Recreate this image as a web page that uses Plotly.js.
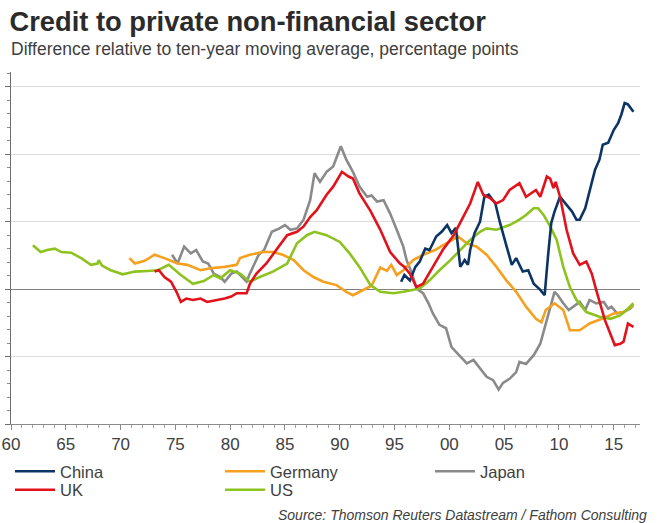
<!DOCTYPE html>
<html>
<head>
<meta charset="utf-8">
<script src="https://cdn.plot.ly/plotly-3.0.1.min.js"></script>
<style>html,body{margin:0;padding:0;background:#fff;}#chart{width:660px;height:523px;}</style>
</head>
<body>
<div id="chart"></div>
<script>
// ---- Data (years as decimal, values in percentage points) ----
const chinaYears = [1995.6,1995.9,1996.4,1996.9,1997.3,1997.8,1998.2,1998.8,1999.3,1999.8,2000.2,2000.6,2001.0,2001.4,2001.7,2001.9,2002.3,2002.8,2003.2,2003.6,2004.2,2004.6,2005.2,2005.7,2006.1,2006.7,2007.2,2007.7,2008.3,2008.7,2009.0,2009.3,2009.6,2010.1,2010.7,2011.2,2011.6,2011.9,2012.4,2012.8,2013.3,2013.7,2014.0,2014.5,2015.0,2015.4,2015.7,2016.0,2016.3,2016.8];
const chinaValues = [1.1,2.1,1.3,3.3,4.1,6.0,5.8,7.8,8.5,9.5,8.3,9.1,3.3,4.3,3.6,5.8,8.3,10.0,13.7,14.0,12.7,10.0,6.5,3.6,4.6,2.6,2.8,0.8,-0.1,-0.9,4.8,9.8,11.5,13.7,12.5,11.5,10.3,10.3,12.0,14.5,17.7,19.2,21.4,21.7,23.6,24.6,25.9,27.6,27.4,26.3];

const germanyYears = [1970.8,1971.3,1972.2,1973.1,1974.0,1975.2,1976.1,1977.3,1978.2,1979.5,1980.6,1980.9,1981.8,1983.0,1983.9,1984.8,1985.8,1986.7,1987.6,1988.5,1989.7,1990.6,1991.2,1992.1,1992.9,1993.7,1994.3,1994.7,1995.2,1995.8,1996.7,1997.6,1998.7,1999.4,2000.2,2000.8,2001.6,2002.5,2003.4,2004.3,2005.2,2006.1,2007.0,2007.9,2008.4,2008.8,2009.6,2010.4,2011.0,2011.9,2012.8,2013.7,2014.4,2015.0,2015.9,2016.8];
const germanyValues = [4.6,3.8,4.2,5.1,4.6,3.8,3.6,2.8,3.1,3.3,3.6,4.6,5.1,5.5,5.5,5.1,4.3,2.8,1.8,1.1,0.6,-0.4,-0.9,-0.1,0.5,3.2,2.7,3.6,2.1,2.8,4.3,5.1,5.8,6.5,7.3,7.8,6.8,6.3,5.1,3.3,1.3,-0.4,-2.6,-4.4,-4.9,-3.1,-2.1,-3.1,-6.1,-6.1,-5.1,-4.6,-4.1,-3.6,-3.4,-2.4];

const japanYears = [1974.7,1975.2,1975.8,1976.4,1976.9,1977.5,1978.0,1978.5,1979.1,1979.5,1980.1,1980.6,1981.5,1981.8,1982.6,1983.1,1983.8,1984.5,1985.0,1985.5,1986.1,1986.7,1987.3,1987.7,1988.2,1988.8,1989.4,1989.7,1990.1,1990.6,1991.2,1991.8,1992.5,1992.9,1993.4,1994.0,1994.6,1995.2,1995.8,1996.1,1996.6,1997.0,1997.6,1998.1,1998.5,1999.1,1999.7,2000.2,2001.0,2001.6,2002.2,2002.8,2003.4,2004.0,2004.5,2004.9,2005.5,2006.1,2006.4,2007.0,2007.7,2008.3,2008.9,2009.3,2009.6,2009.9,2010.4,2010.9,2011.3,2011.9,2012.4,2012.8,2013.4,2014.1,2014.5,2014.8,2015.3,2015.9,2016.5,2016.8];
const japanValues = [5.1,3.8,6.3,5.3,5.8,4.1,3.8,2.3,1.8,1.1,2.3,2.6,1.1,2.3,5.1,5.8,8.5,9.0,9.5,8.8,9.0,10.3,13.2,17.2,15.9,17.4,18.2,19.4,21.2,19.2,17.4,15.2,13.7,13.9,13.0,13.2,11.2,8.8,6.3,4.3,2.3,0.1,-0.6,-2.1,-3.6,-5.3,-5.8,-8.6,-10.0,-11.0,-10.5,-11.8,-13.0,-13.5,-14.9,-13.9,-13.3,-12.3,-10.8,-11.1,-9.8,-8.1,-4.6,-2.1,-0.4,-0.9,-2.1,-3.1,-2.6,-1.9,-3.1,-1.6,-2.1,-1.9,-2.9,-2.6,-3.6,-3.4,-2.9,-2.4];

const ukYears = [1973.1,1973.5,1974.0,1974.6,1975.1,1975.5,1976.0,1976.6,1977.3,1977.9,1978.8,1979.5,1980.1,1980.6,1981.5,1981.8,1982.4,1983.3,1984.2,1985.2,1986.1,1986.7,1987.3,1987.9,1988.8,1989.4,1990.2,1990.8,1991.2,1991.8,1992.8,1993.7,1994.6,1995.5,1995.9,1996.4,1997.0,1997.6,1998.5,1999.4,2000.4,2001.3,2001.9,2002.6,2003.1,2003.7,2004.3,2004.9,2005.5,2006.4,2007.0,2007.9,2008.3,2008.9,2009.2,2009.5,2009.7,2010.1,2010.7,2011.3,2011.9,2012.5,2013.0,2013.4,2014.2,2015.1,2015.6,2015.9,2016.3,2016.8];
const ukValues = [2.6,2.8,1.8,1.1,-0.4,-1.9,-1.4,-1.6,-1.4,-1.9,-1.6,-1.4,-1.1,-0.6,-0.6,0.8,2.3,3.8,5.8,8.0,8.5,9.3,10.7,11.7,14.0,15.2,17.4,16.7,16.4,14.2,11.6,8.8,5.5,3.8,3.3,2.3,0.3,0.8,3.3,5.8,8.0,10.7,12.7,15.9,14.0,13.5,12.7,13.2,14.7,15.7,13.7,14.7,13.7,16.7,16.4,15.0,15.9,13.7,8.8,5.3,3.6,4.1,2.3,-0.1,-4.6,-8.3,-8.1,-7.8,-5.1,-5.6];

const usYears = [1962.0,1962.4,1962.7,1963.3,1964.0,1964.6,1965.5,1966.4,1967.3,1967.9,1968.0,1968.3,1969.1,1970.2,1971.3,1972.5,1973.4,1974.4,1975.5,1976.6,1977.6,1978.5,1979.1,1980.0,1980.9,1981.8,1982.7,1983.9,1985.2,1986.1,1987.0,1987.7,1988.8,1990.0,1990.9,1991.8,1992.8,1993.7,1994.9,1995.8,1997.3,1998.2,1999.1,2000.1,2001.0,2001.9,2002.8,2003.4,2004.3,2005.5,2006.4,2007.0,2007.7,2008.1,2008.6,2009.2,2009.8,2010.4,2011.0,2011.6,2012.5,2013.7,2014.7,2015.6,2016.3,2016.8];
const usValues = [6.5,5.9,5.5,5.8,6.0,5.5,5.4,4.6,3.6,3.8,4.3,3.5,2.8,2.2,2.6,2.7,2.8,3.6,2.1,0.8,1.2,2.1,1.6,2.8,2.3,1.1,1.8,2.6,3.8,6.8,8.0,8.5,8.0,7.0,5.3,3.3,0.6,-0.4,-0.6,-0.4,0.1,1.3,2.8,4.3,5.8,7.3,8.5,9.0,8.8,9.5,10.3,11.0,12.0,12.0,11.0,9.3,7.3,3.3,0.3,-1.6,-3.4,-4.1,-4.4,-3.9,-2.9,-2.1];

const xTickVals = [1960,1965,1970,1975,1980,1985,1990,1995,2000,2005,2010,2015];
const xTickText = ["60","65","70","75","80","85","90","95","00","05","10","15"];

// ---- Layout helpers ----
const W = 660, H = 523;
const M = {l: 11, r: 20, t: 72, b: 99};
const pw = W - M.l - M.r, ph = H - M.t - M.b;
const px = X => (X - M.l) / pw;
const py = Y => (H - M.b - Y) / ph;

function tr(name, x, y, color, rank, legend) {
  return {type: 'scatter', mode: 'lines', name: name, x: x, y: y,
    line: {color: color, width: 2.6}, legendrank: rank, legend: legend, hoverinfo: 'skip'};
}

const data = [
  tr('Japan', japanYears, japanValues, '#8a8a8a', 3, 'legend'),
  tr('Germany', germanyYears, germanyValues, '#f5a01f', 2, 'legend'),
  tr('US', usYears, usValues, '#8cc31e', 5, 'legend2'),
  tr('China', chinaYears, chinaValues, '#0d3563', 1, 'legend'),
  tr('UK', ukYears, ukValues, '#e2121c', 4, 'legend2')
];

const font = 'Liberation Sans, Arial, sans-serif';
function legendRow(topY) {
  return {orientation: 'h', xref: 'container', yref: 'container', x: 10 / W, xanchor: 'left',
    y: 1 - topY / H, yanchor: 'top', entrywidth: 155, entrywidthmode: 'pixels',
    font: {size: 16.5, color: '#404040'}, itemwidth: 40, traceorder: 'normal', bgcolor: 'rgba(0,0,0,0)'};
}

const layout = {
  width: W, height: H,
  margin: M,
  paper_bgcolor: '#ffffff', plot_bgcolor: '#ffffff',
  font: {family: font, color: '#404040'},
  title: {text: 'Credit to private non-financial sector', font: {family: font, size: 27.3, color: '#2b2b2b', weight: 'bold'},
    x: 9.5 / W, xanchor: 'left', xref: 'container', y: 1 - 21 / H, yanchor: 'middle', yref: 'container'},
  xaxis: {range: [1960, 2017.4], tickmode: 'array', tickvals: xTickVals, ticktext: xTickText,
    showgrid: false, zeroline: false, showline: true, linecolor: '#8c8c8c', linewidth: 1,
    ticks: 'outside', ticklen: 5, tickcolor: '#8c8c8c', tickwidth: 1,
    tickfont: {size: 17, color: '#404040'},
    minor: {tickmode: 'linear', tick0: 1960, dtick: 1, ticks: 'outside', ticklen: 3, tickcolor: '#a0a0a0', showgrid: false}},
  yaxis: {range: [-20, 32.2], tickmode: 'linear', tick0: 0, dtick: 10, showticklabels: false,
    showgrid: true, gridcolor: '#dcdcdc', gridwidth: 1,
    zeroline: true, zerolinecolor: '#808080', zerolinewidth: 1,
    showline: true, linecolor: '#6e6e6e', linewidth: 1,
    ticks: 'outside', ticklen: 5, tickcolor: '#6e6e6e',
    minor: {tickmode: 'linear', tick0: 0, dtick: 2, ticks: 'outside', ticklen: 3, tickcolor: '#8c8c8c', showgrid: false}},
  showlegend: true,
  legend: legendRow(454),
  legend2: legendRow(472.5),
  annotations: [
    {text: 'Difference relative to ten-year moving average, percentage points', showarrow: false,
      xref: 'paper', yref: 'paper', x: px(9), y: py(49), xanchor: 'left', yanchor: 'middle',
      font: {size: 17.5, color: '#404040'}},
    {text: '<i>Source: Thomson Reuters Datastream / Fathom Consulting</i>', showarrow: false,
      xref: 'paper', yref: 'paper', x: px(649), y: py(515), xanchor: 'right', yanchor: 'middle',
      font: {size: 14, color: '#404040'}}
  ]
};

Plotly.newPlot('chart', data, layout, {staticPlot: true, displayModeBar: false});
</script>
</body>
</html>
